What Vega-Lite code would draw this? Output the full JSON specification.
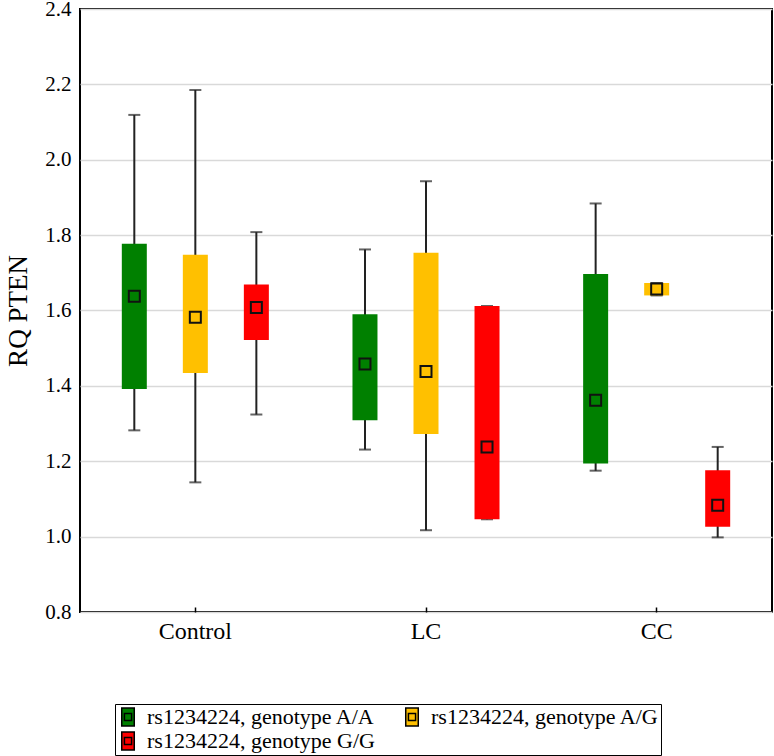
{
  "$schema": "https://vega.github.io/schema/vega-lite/v6.json",
  "width": 692,
  "height": 603,
  "autosize": {"type": "none"},
  "padding": {"left": 80, "top": 9, "right": 2, "bottom": 144},
  "background": "white",
  "config": {
    "font": "Liberation Serif",
    "view": {"stroke": "black", "strokeWidth": 2},
    "axis": {"domainColor": "black", "domainWidth": 2, "labelColor": "black", "titleColor": "black", "labelFont": "Liberation Serif", "titleFont": "Liberation Serif"},
    "legend": {"labelFont": "Liberation Serif"}
  },
  "data": {
    "values": [
      {"group": "Control", "genotype": "rs1234224, genotype A/A", "min": 1.282, "q1": 1.392, "mid": 1.638, "q3": 1.777, "max": 2.119},
      {"group": "Control", "genotype": "rs1234224, genotype A/G", "min": 1.144, "q1": 1.434, "mid": 1.582, "q3": 1.748, "max": 2.185},
      {"group": "Control", "genotype": "rs1234224, genotype G/G", "min": 1.324, "q1": 1.522, "mid": 1.608, "q3": 1.669, "max": 1.808},
      {"group": "LC", "genotype": "rs1234224, genotype A/A", "min": 1.231, "q1": 1.309, "mid": 1.458, "q3": 1.590, "max": 1.762},
      {"group": "LC", "genotype": "rs1234224, genotype A/G", "min": 1.017, "q1": 1.272, "mid": 1.438, "q3": 1.753, "max": 1.943},
      {"group": "LC", "genotype": "rs1234224, genotype G/G", "min": 1.046, "q1": 1.046, "mid": 1.238, "q3": 1.612, "max": 1.612},
      {"group": "CC", "genotype": "rs1234224, genotype A/A", "min": 1.175, "q1": 1.194, "mid": 1.362, "q3": 1.697, "max": 1.884},
      {"group": "CC", "genotype": "rs1234224, genotype A/G", "min": 1.640, "q1": 1.640, "mid": 1.657, "q3": 1.673, "max": 1.673},
      {"group": "CC", "genotype": "rs1234224, genotype G/G", "min": 0.998, "q1": 1.026, "mid": 1.083, "q3": 1.176, "max": 1.238}
    ]
  },
  "encoding": {
    "x": {
      "field": "group", "type": "nominal", "sort": ["Control", "LC", "CC"],
      "scale": {"paddingInner": 0, "paddingOuter": 0},
      "axis": {"title": null, "labelAngle": 0, "labelFontSize": 24, "labelPadding": 12, "tickSize": -5, "tickColor": "black", "tickWidth": 1.5, "domain": false}
    },
    "xOffset": {
      "field": "genotype", "type": "nominal",
      "scale": {"paddingInner": 0, "paddingOuter": 0.39}
    }
  },
  "layer": [
    {
      "mark": {"type": "rule", "color": "#222222", "strokeWidth": 2},
      "encoding": {
        "y": {
          "field": "min", "type": "quantitative",
          "scale": {"domain": [0.8, 2.4], "nice": false, "zero": false},
          "axis": {
            "title": "RQ PTEN", "titleFontSize": 27, "titleFontWeight": "normal", "titlePadding": 12,
            "values": [0.8, 1.0, 1.2, 1.4, 1.6, 1.8, 2.0, 2.2, 2.4], "format": ".1f",
            "labelFontSize": 21, "labelPadding": 9, "ticks": false, "domain": false,
            "grid": true, "gridColor": "#d9d9d9", "gridWidth": 1.5
          }
        },
        "y2": {"field": "max"}
      }
    },
    {
      "mark": {"type": "tick", "color": "#222222", "size": 12, "thickness": 2},
      "encoding": {"y": {"field": "min", "type": "quantitative"}}
    },
    {
      "mark": {"type": "tick", "color": "#222222", "size": 12, "thickness": 2},
      "encoding": {"y": {"field": "max", "type": "quantitative"}}
    },
    {
      "mark": {"type": "bar", "width": 25},
      "encoding": {
        "y": {"field": "q1", "type": "quantitative"},
        "y2": {"field": "q3"},
        "color": {
          "field": "genotype", "type": "nominal",
          "scale": {"domain": ["rs1234224, genotype A/A", "rs1234224, genotype A/G", "rs1234224, genotype G/G"], "range": ["#008000", "#FFC000", "#FF0000"]},
          "legend": {
            "title": null, "orient": "none", "legendX": 35, "legendY": 695,
            "columns": 2, "direction": "horizontal",
            "labelFontSize": 22, "labelColor": "black", "labelLimit": 400,
            "symbolType": "M-0.7,-1H0.7V1H-0.7Z M-0.4,-0.4H0.4V0.4H-0.4Z",
            "symbolSize": 320, "symbolStrokeColor": "black", "symbolStrokeWidth": 1.5, "symbolOpacity": 1,
            "strokeColor": "black", "padding": 2, "columnPadding": 26, "rowPadding": 0, "labelOffset": 8
          }
        }
      }
    },
    {
      "mark": {"type": "point", "shape": "square", "filled": false, "size": 121, "stroke": "#111111", "strokeWidth": 2, "opacity": 1},
      "encoding": {"y": {"field": "mid", "type": "quantitative"}}
    }
  ]
}
